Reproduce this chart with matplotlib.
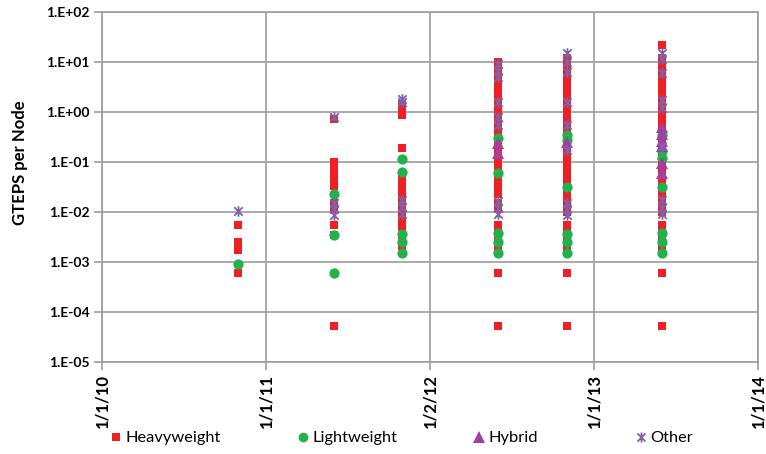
import matplotlib
matplotlib.use("Agg")
import matplotlib.pyplot as plt
import matplotlib.dates as mdates
from matplotlib.path import Path
from matplotlib.lines import Line2D
from matplotlib.ticker import FixedLocator, FuncFormatter, NullLocator
import numpy as np

# ---------------- data ----------------
list_dates = ["2010-11-01", "2011-06-01", "2011-11-01",
              "2012-06-01", "2012-11-01", "2013-06-01"]

heavyweight = [
    [5.4e-3, 2.5e-3, 2.1e-3, 1.7e-3, 6.0e-4],
    [0.72, 0.10, 0.068, 0.052, 0.042, 0.033, 0.015, 0.011, 0.0054, 0.0034, 5.2e-5],
    [1.4, 1.1, 0.85, 0.19, 0.054, 0.042, 0.035, 0.028, 0.022, 0.017, 0.013,
     0.010, 0.0078, 0.006, 0.0048, 0.0028, 0.002],
    [10.0, 7.4, 5.5, 4.0, 2.9, 2.1, 1.6, 1.2, 0.85, 0.63, 0.47, 0.34, 0.25, 0.19,
     0.135, 0.10, 0.074, 0.054, 0.040, 0.030, 0.022, 0.015, 0.011, 0.0054,
     0.0040, 0.0030, 0.0022, 0.0017, 5.9e-4, 5.2e-5],
    [12.0, 9.0, 6.8, 5.0, 3.7, 2.7, 2.0, 1.5, 1.1, 0.80, 0.60, 0.44, 0.33, 0.24,
     0.18, 0.13, 0.095, 0.068, 0.050, 0.037, 0.027, 0.020, 0.014, 0.010, 0.0054,
     0.0040, 0.0030, 0.0022, 0.0017, 5.9e-4, 5.2e-5],
    [21.0, 12.0, 9.0, 6.7, 5.0, 3.7, 2.7, 2.0, 1.5, 1.1, 0.80, 0.60, 0.44, 0.33,
     0.24, 0.18, 0.13, 0.095, 0.070, 0.050, 0.037, 0.027, 0.020, 0.014, 0.010,
     0.0054, 0.0040, 0.0030, 0.0022, 0.0017, 5.9e-4, 5.2e-5],
]

lightweight = [
    [8.9e-4],
    [0.022, 0.0034, 5.9e-4],
    [0.11, 0.062, 0.0035, 0.0025, 0.0015],
    [0.30, 0.059, 0.0037, 0.0025, 0.0015],
    [0.34, 0.27, 0.031, 0.0036, 0.0025, 0.0015],
    [0.34, 0.16, 0.12, 0.031, 0.0037, 0.0025, 0.0015],
]

hybrid = [
    [],
    [],
    [],
    [0.23, 0.15],
    [0.24],
    [0.50, 0.36, 0.26, 0.20, 0.095, 0.060],
]

other = [
    [0.0102],
    [0.78, 0.015, 0.011, 0.0085],
    [1.8, 1.55, 0.017, 0.0125, 0.009],
    [9.0, 6.5, 5.0, 1.55, 0.78, 0.54, 0.016, 0.012, 0.009],
    [14.8, 10.0, 6.2, 1.55, 0.54, 0.17, 0.015, 0.011, 0.0085],
    [15.0, 11.0, 6.0, 1.7, 1.2, 0.20, 0.017, 0.012, 0.009],
]

series_names = ["Heavyweight", "Lightweight", "Hybrid", "Other"]
x_tick_labels = ["1/1/10", "1/1/11", "1/2/12", "1/1/13", "1/1/14"]
x_range = ["2010-01-01", "2014-01-01"]
y_range = [1e-5, 1e2]
y_label = "GTEPS per Node"

# ---------------- style ----------------
plt.rcParams['font.family'] = ['Lato', 'DejaVu Sans']
colors = ["#EE2024", "#22B14C", "#A23FA0", "#7F62AB"]

star_path = Path([(-1, -1), (1, 1), (-1, 1), (1, -1), (0, -1.25), (0, 1.25)],
                 [Path.MOVETO, Path.LINETO, Path.MOVETO, Path.LINETO,
                  Path.MOVETO, Path.LINETO])
marker_styles = [
    dict(marker='s', markersize=6.0, markeredgewidth=0),
    dict(marker='o', markersize=7.4, markeredgewidth=0),
    dict(marker='^', markersize=8.5, markeredgewidth=0),
    dict(marker=star_path, markersize=7.6, markeredgewidth=1.3,
         markerfacecolor='none'),
]

fig = plt.figure(figsize=(7.66, 4.54), dpi=100)
W, H = 766, 454
left, right, top, bottom = 102, 758, 11.5, 361.5
ax = fig.add_axes([left / W, 1 - bottom / H, (right - left) / W, (bottom - top) / H])

xdates = mdates.datestr2num(list_dates)
all_series = [heavyweight, lightweight, hybrid, other]
for k, (series, name) in enumerate(zip(all_series, series_names)):
    xs = np.concatenate([[xd] * len(v) for xd, v in zip(xdates, series)])
    ys = np.concatenate([np.asarray(v, dtype=float) for v in series])
    st = dict(marker_styles[k])
    if k == 3:
        st['markeredgecolor'] = colors[k]
    else:
        st['markerfacecolor'] = colors[k]
        st['markeredgecolor'] = colors[k]
    ax.plot(xs, ys, linestyle='none', zorder=3 + k, **st)

ax.set_yscale('log')
ax.set_ylim(*y_range)
xmin, xmax = mdates.datestr2num(x_range)
ax.set_xlim(xmin, xmax)

grid_c = "#9C9C9C"
ax.xaxis.set_major_locator(FixedLocator(np.linspace(xmin, xmax, len(x_tick_labels))))
ax.set_xticklabels(x_tick_labels, rotation=90, fontsize=12, fontweight='bold')
ax.xaxis.set_minor_locator(NullLocator())

decades = np.arange(-5, 3)
ax.yaxis.set_major_locator(FixedLocator(10.0 ** decades))
ax.yaxis.set_minor_locator(NullLocator())
ax.yaxis.set_major_formatter(FuncFormatter(
    lambda v, p: "1.E%+03d" % int(round(np.log10(v)))))
for lab in ax.get_yticklabels():
    lab.set_fontweight('bold')
ax.tick_params(axis='y', labelsize=10, length=6, color=grid_c, width=1.2, pad=3)
ax.tick_params(axis='x', length=6, color=grid_c, width=1.2, pad=3)

ax.grid(True, which='major', color=grid_c, linewidth=1.2)
ax.set_axisbelow(True)
for s in ax.spines.values():
    s.set_color(grid_c)
    s.set_linewidth(1.2)

ax.set_ylabel(y_label, fontsize=12, fontweight='bold')
ax.yaxis.set_label_coords(-(left - 28) / (right - left), (bottom - 163) / (bottom - top))

legend_x = [109, 296, 472, 634]
for k, name in enumerate(series_names):
    st = dict(marker_styles[k])
    st['markersize'] = st['markersize'] * 0.95
    if k == 3:
        st['markeredgecolor'] = colors[k]
    else:
        st['markerfacecolor'] = colors[k]
        st['markeredgecolor'] = colors[k]
    h = Line2D([], [], linestyle='none', label=name, **st)
    fig.legend(handles=[h], loc='center left',
               bbox_to_anchor=(legend_x[k] / W, 1 - 438 / H),
               frameon=False, fontsize=11.8, handlelength=0.8,
               handletextpad=0.2, borderaxespad=0, borderpad=0)

fig.savefig("out.png", dpi=100)
